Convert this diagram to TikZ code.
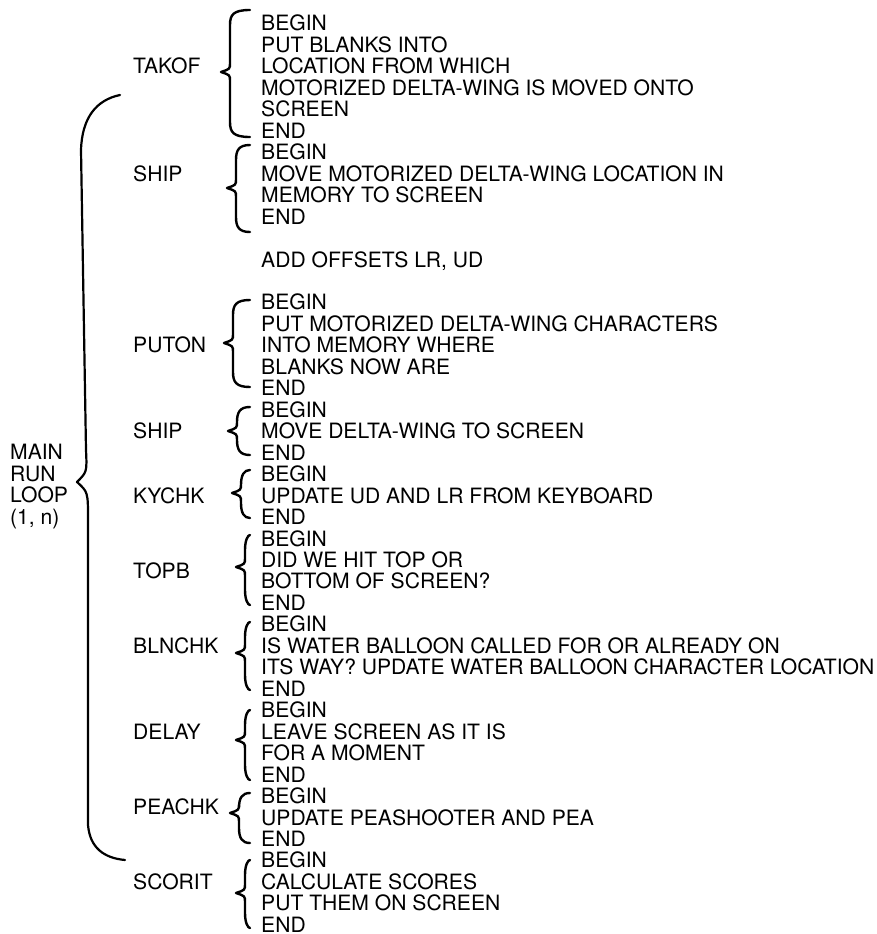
\documentclass[tikz,border=0pt]{standalone}
\usepackage{fontspec}
\setmainfont{TeX Gyre Heros}
\usepackage{tikz}

\begin{document}
\begin{tikzpicture}[x=1pt,y=-1pt,
  txt/.style={anchor=west,inner sep=0pt,font=\fontsize{21.1}{21.5}\selectfont,text height=15pt,text depth=0pt},
  brc/.style={line width=2.4pt,line cap=round,line join=round}]
\useasboundingbox (0,0) rectangle (876,934);
% routine texts, one per line
\foreach \n/\t in {0/BEGIN,1/PUT BLANKS INTO,2/LOCATION FROM WHICH,3/MOTORIZED DELTA-WING IS MOVED ONTO,4/SCREEN,5/END,
  6/BEGIN,7/MOVE MOTORIZED DELTA-WING LOCATION IN,8/MEMORY TO SCREEN,9/END,
  11/{ADD OFFSETS LR, UD},
  13/BEGIN,14/PUT MOTORIZED DELTA-WING CHARACTERS,15/INTO MEMORY WHERE,16/BLANKS NOW ARE,17/END,
  18/BEGIN,19/MOVE DELTA-WING TO SCREEN,20/END,
  21/BEGIN,22/UPDATE UD AND LR FROM KEYBOARD,23/END,
  24/BEGIN,25/DID WE HIT TOP OR,26/BOTTOM OF SCREEN?,27/END,
  28/BEGIN,29/IS WATER BALLOON CALLED FOR OR ALREADY ON,30/ITS WAY? UPDATE WATER BALLOON CHARACTER LOCATION,31/END,
  32/BEGIN,33/LEAVE SCREEN AS IT IS,34/FOR A MOMENT,35/END,
  36/BEGIN,37/UPDATE PEASHOOTER AND PEA,38/END,
  39/BEGIN,40/CALCULATE SCORES,41/PUT THEM ON SCREEN,42/END}
  \node[txt] (ln\n) at (261,{23.5+21.46*\n}) {\t};
% routine names
\foreach \t/\n [count=\k] in {TAKOF/2,SHIP/7,PUTON/15,SHIP/19,KYCHK/22,TOPB/25.5,BLNCHK/29,DELAY/33,PEACHK/36.5,SCORIT/40}
  \node[txt] (name\k) at (133,{23.5+21.46*\n}) {\t};
\foreach \w [count=\k] in {MAIN,RUN,LOOP,{(1, n)}}
  \node[txt] (loop\k) at (10,{430.5+21.6*\k}) {\w};
% small braces: tip x / tip y / top / bottom
\foreach \tx/\ty/\ya/\yb in {221/72/10/137,227/188/145/232,224/343/300/387,228/431/407/455,232/493/470/518,
  236/567/535/605,236/653/622/690,236/740/710/780,230/813/793/843,236/893/860/928}
  \draw[brc] (250,\ya) .. controls (\tx+12,\ya) and (\tx+9,\ya+5) .. (\tx+9,\ya+15)
    -- (\tx+9,\ty-9) .. controls (\tx+9,\ty-3) .. (\tx,\ty)
    .. controls (\tx+9,\ty+3) .. (\tx+9,\ty+9)
    -- (\tx+9,\yb-15) .. controls (\tx+9,\yb-5) and (\tx+12,\yb) .. (250,\yb);
% main loop brace
\draw[brc,line width=2.2pt] (120,95) .. controls (96,100) and (82,118) .. (81,150)
  -- (86,450) .. controls (87,472) .. (77,482) .. controls (88,492) .. (88,520)
  -- (88,825) .. controls (90,848) and (104,858) .. (125,860);
\end{tikzpicture}
\end{document}
